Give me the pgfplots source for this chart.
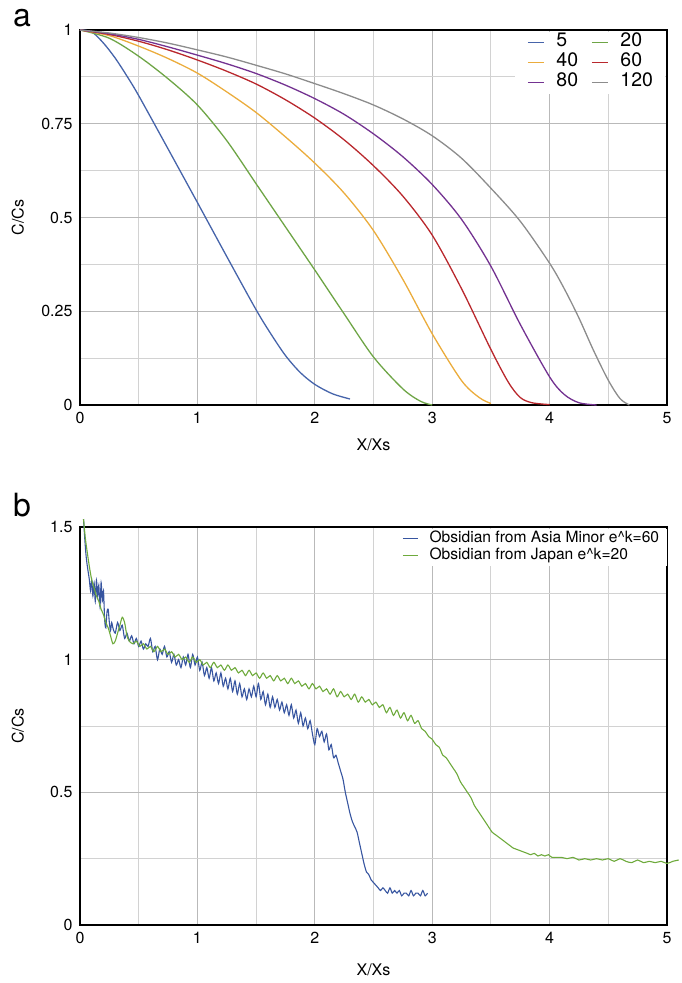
\documentclass[border=0pt]{standalone}
\usepackage{fontspec}
\setmainfont{TeX Gyre Heros}
\usepackage{pgfplots}
\pgfplotsset{compat=1.18}
\definecolor{cfive}{RGB}{70,100,170}
\definecolor{ctwenty}{RGB}{110,165,70}
\definecolor{cforty}{RGB}{235,172,60}
\definecolor{csixty}{RGB}{185,40,45}
\definecolor{ceighty}{RGB}{115,50,145}
\definecolor{conetwenty}{RGB}{140,140,140}
\definecolor{asia}{RGB}{55,85,160}
\definecolor{japan}{RGB}{110,170,60}

\pgfplotsset{
  panel/.style={
    scale only axis, width=587pt,
    xmin=0, xmax=5, xtick={0,1,2,3,4,5}, minor x tick num=1,
    grid=both,
    major grid style={gray!55, line width=1pt},
    minor grid style={gray!35, line width=1pt},
    major tick length=0pt, minor tick length=0pt,
    axis line style={black, line width=2.4pt},
    tick label style={font=\fontsize{16}{19}\selectfont},
    label style={font=\fontsize{16}{19}\selectfont},
    /pgf/number format/assume math mode=true,
    xticklabel style={yshift=-4pt},
    yticklabel style={xshift=-4pt},
    every axis plot/.append style={line width=1.3pt, no marks},
    legend cell align=left,
  },
}

\begin{document}
\begin{tikzpicture}
\useasboundingbox (-80pt,-578pt) rectangle (601pt,405pt);

% panel a
\begin{axis}[panel, at={(0pt,0pt)}, height=375pt,
  ymin=0, ymax=1, ytick={0,0.25,0.5,0.75,1}, minor y tick num=1,
  xlabel={X/Xs}, ylabel={C/Cs},
  xlabel style={at={(axis description cs:0.5,-0.107)}, anchor=center},
  ylabel style={at={(axis description cs:-0.106,0.5)}, anchor=center},
  legend columns=2,
  legend style={at={(axis description cs:0.741,0.996)}, anchor=north west,
    draw=none, fill=white, font=\fontsize{19.5}{22}\selectfont,
    inner xsep=12pt, inner ysep=1pt,
    nodes={inner xsep=0pt, inner ysep=0pt, text height=14pt, text depth=6pt},
    /tikz/every odd column/.style={column sep=12pt},
    /tikz/every even column/.style={column sep=13pt}},
  legend image code/.code={\draw[#1, line width=1.3pt] (0pt,0pt) -- (16pt,0pt);},
]
\addplot[cfive, smooth] coordinates {(0,1) (0.1,0.995) (0.2,0.965) (0.3,0.925) (0.4,0.877) (0.5,0.825) (0.75,0.683) (1,0.54) (1.25,0.396) (1.5,0.254) (1.625,0.19) (1.75,0.132) (1.875,0.087) (2,0.055) (2.15,0.03) (2.3,0.016)};
\addplot[ctwenty, smooth] coordinates {(0,1) (0.25,0.978) (0.5,0.93) (0.75,0.87) (1,0.80) (1.25,0.705) (1.5,0.59) (1.75,0.475) (2,0.36) (2.25,0.243) (2.5,0.128) (2.75,0.043) (2.9,0.01) (3,0)};
\addplot[cforty, smooth] coordinates {(0,1) (0.25,0.985) (0.5,0.957) (0.75,0.924) (1,0.885) (1.25,0.835) (1.5,0.78) (1.75,0.715) (2,0.645) (2.25,0.565) (2.5,0.465) (2.75,0.335) (3,0.19) (3.25,0.065) (3.4,0.02) (3.5,0.004)};
\addplot[csixty, smooth] coordinates {(0,1) (0.25,0.988) (0.5,0.97) (0.75,0.947) (1,0.92) (1.25,0.89) (1.5,0.856) (1.75,0.814) (2,0.765) (2.25,0.707) (2.5,0.638) (2.75,0.557) (3,0.453) (3.25,0.31) (3.5,0.148) (3.65,0.06) (3.75,0.02) (3.85,0.006) (4,0.001)};
\addplot[ceighty, smooth] coordinates {(0,1) (0.25,0.99) (0.5,0.975) (0.75,0.955) (1,0.933) (1.25,0.91) (1.5,0.884) (1.75,0.853) (2,0.817) (2.25,0.775) (2.5,0.723) (2.75,0.662) (3,0.588) (3.25,0.495) (3.5,0.37) (3.75,0.215) (4.0,0.075) (4.125,0.028) (4.25,0.006) (4.4,0.0)};
\addplot[conetwenty, smooth] coordinates {(0,1) (0.25,0.992) (0.5,0.98) (0.75,0.965) (1,0.947) (1.25,0.928) (1.5,0.906) (1.75,0.883) (2,0.857) (2.25,0.83) (2.5,0.8) (2.75,0.763) (3,0.718) (3.25,0.658) (3.5,0.578) (3.75,0.49) (4,0.378) (4.125,0.31) (4.25,0.232) (4.375,0.145) (4.5,0.066) (4.6,0.017) (4.68,0.0)};
\legend{5,20,40,60,80,120}
\end{axis}
\node[font=\fontsize{32}{34}\selectfont] at (-58pt,387pt) {a};

% panel b
\begin{axis}[panel, at={(0pt,-520pt)}, height=398pt, clip=false,
  ymin=0, ymax=1.5, ytick={0,0.5,1,1.5}, minor y tick num=1,
  xlabel={X/Xs}, ylabel={C/Cs},
  xlabel style={at={(axis description cs:0.5,-0.113)}, anchor=center},
  ylabel style={at={(axis description cs:-0.106,0.5)}, anchor=center},
  legend style={at={(axis description cs:0.535,0.996)}, anchor=north west,
    draw=none, fill=white, font=\fontsize{15.6}{18}\selectfont,
    inner xsep=8pt, inner ysep=1.5pt,
    nodes={inner xsep=0pt, inner ysep=0pt, text height=12pt, text depth=5pt},
    /tikz/every odd column/.style={column sep=11pt}},
  legend image code/.code={\draw[#1, line width=1.3pt] (0pt,0pt) -- (15pt,0pt);},
  every axis plot/.append style={line width=1.1pt, smooth, tension=0.45},
]
\addplot[asia] coordinates {
(0.03,1.53) (0.04,1.46) (0.05,1.40) (0.06,1.36) (0.07,1.33) (0.08,1.30) (0.09,1.26) (0.10,1.30)
(0.11,1.24) (0.12,1.29) (0.13,1.22) (0.14,1.30) (0.15,1.24) (0.16,1.28) (0.17,1.20) (0.18,1.29)
(0.19,1.22) (0.20,1.26) (0.21,1.15) (0.22,1.12) (0.23,1.18) (0.24,1.19) (0.25,1.14) (0.26,1.11)
(0.27,1.14) (0.28,1.12) (0.30,1.10) (0.32,1.14) (0.34,1.11) (0.36,1.13) (0.38,1.08) (0.40,1.10)
(0.42,1.07) (0.44,1.09) (0.46,1.06) (0.48,1.08) (0.50,1.05) (0.52,1.07) (0.54,1.04) (0.56,1.06)
(0.58,1.05) (0.60,1.08) (0.62,1.03) (0.64,1.05) (0.66,1.00) (0.68,1.04) (0.70,1.02) (0.72,1.05)
(0.74,1.01) (0.76,1.03) (0.78,0.99) (0.80,1.02) (0.82,0.98) (0.84,1.00) (0.86,0.97) (0.88,1.01)
(0.90,0.98) (0.92,1.02) (0.94,0.97) (0.96,1.02) (0.98,0.98) (1.00,1.01) (1.02,0.96) (1.04,0.99)
(1.06,0.94) (1.08,0.97) (1.10,0.93) (1.12,0.97) (1.14,0.92) (1.16,0.95) (1.18,0.91) (1.20,0.95)
(1.22,0.90) (1.24,0.93) (1.26,0.89) (1.28,0.93) (1.30,0.88) (1.32,0.92) (1.34,0.87) (1.36,0.91)
(1.38,0.86) (1.40,0.89) (1.42,0.85) (1.44,0.89) (1.46,0.86) (1.48,0.90) (1.50,0.86) (1.52,0.91)
(1.54,0.85) (1.56,0.88) (1.58,0.83) (1.60,0.87) (1.62,0.82) (1.64,0.86) (1.66,0.82) (1.68,0.85)
(1.70,0.81) (1.72,0.84) (1.74,0.80) (1.76,0.83) (1.78,0.79) (1.80,0.83) (1.82,0.78) (1.84,0.81)
(1.86,0.76) (1.88,0.80) (1.90,0.75) (1.92,0.78) (1.94,0.74) (1.96,0.77) (1.98,0.72) (2.00,0.68)
(2.02,0.74) (2.04,0.71) (2.06,0.73) (2.08,0.69) (2.10,0.72) (2.12,0.66) (2.14,0.68) (2.16,0.63)
(2.18,0.64) (2.20,0.61) (2.22,0.58) (2.24,0.55) (2.26,0.50) (2.28,0.46) (2.30,0.42) (2.32,0.39)
(2.34,0.37) (2.36,0.35) (2.38,0.31) (2.40,0.27) (2.42,0.23) (2.44,0.20) (2.46,0.19) (2.48,0.17)
(2.50,0.16) (2.52,0.15) (2.54,0.14) (2.56,0.13) (2.58,0.14) (2.60,0.13) (2.62,0.12) (2.64,0.14)
(2.66,0.12) (2.68,0.13) (2.70,0.12) (2.72,0.13) (2.74,0.11) (2.76,0.12) (2.78,0.12) (2.80,0.11)
(2.82,0.13) (2.84,0.11) (2.86,0.12) (2.88,0.12) (2.90,0.11) (2.92,0.13) (2.94,0.11) (2.96,0.12)
};
\addplot[japan] coordinates {
(0.03,1.53) (0.045,1.46) (0.06,1.41) (0.08,1.35) (0.10,1.30) (0.12,1.27) (0.14,1.24) (0.16,1.22)
(0.18,1.19) (0.20,1.17) (0.22,1.14) (0.24,1.12) (0.26,1.09) (0.28,1.06) (0.30,1.07) (0.32,1.10)
(0.34,1.13) (0.36,1.16) (0.38,1.14) (0.40,1.09) (0.42,1.07) (0.45,1.06) (0.48,1.07) (0.51,1.05)
(0.54,1.06) (0.57,1.04) (0.60,1.05) (0.63,1.03) (0.66,1.05) (0.69,1.03) (0.72,1.04) (0.75,1.02)
(0.78,1.03) (0.81,1.01) (0.84,1.02) (0.87,1.00) (0.90,1.01) (0.93,0.99) (0.96,1.01) (0.99,0.99)
(1.02,1.00) (1.05,0.98) (1.08,0.99) (1.11,0.97) (1.14,0.99) (1.17,0.97) (1.20,0.98) (1.23,0.96)
(1.26,0.98) (1.29,0.96) (1.32,0.97) (1.35,0.95) (1.38,0.96) (1.41,0.94) (1.44,0.96) (1.47,0.94)
(1.50,0.95) (1.53,0.93) (1.56,0.95) (1.59,0.93) (1.62,0.94) (1.65,0.92) (1.68,0.94) (1.71,0.92)
(1.74,0.93) (1.77,0.91) (1.80,0.93) (1.83,0.91) (1.86,0.92) (1.89,0.90) (1.92,0.91) (1.95,0.89)
(1.98,0.91) (2.01,0.89) (2.04,0.90) (2.07,0.88) (2.10,0.89) (2.13,0.87) (2.16,0.89) (2.19,0.86)
(2.22,0.88) (2.25,0.86) (2.28,0.87) (2.31,0.85) (2.34,0.87) (2.37,0.84) (2.40,0.86) (2.43,0.84)
(2.46,0.85) (2.49,0.83) (2.52,0.84) (2.55,0.82) (2.58,0.83) (2.61,0.80) (2.64,0.82) (2.67,0.79)
(2.70,0.81) (2.73,0.78) (2.76,0.80) (2.79,0.77) (2.82,0.79) (2.85,0.76) (2.88,0.77) (2.91,0.74)
(2.94,0.73) (2.97,0.71) (3.00,0.70) (3.03,0.68) (3.06,0.67) (3.09,0.64) (3.12,0.63) (3.15,0.61)
(3.18,0.59) (3.21,0.57) (3.24,0.54) (3.27,0.52) (3.30,0.50) (3.33,0.48) (3.36,0.45) (3.39,0.43)
(3.42,0.41) (3.45,0.39) (3.48,0.37) (3.51,0.35) (3.54,0.34) (3.57,0.33) (3.60,0.32) (3.63,0.31)
(3.66,0.30) (3.69,0.29) (3.72,0.285) (3.75,0.28) (3.78,0.275) (3.81,0.27) (3.84,0.265) (3.87,0.27)
(3.90,0.26) (3.93,0.265) (3.96,0.26) (3.99,0.265) (4.02,0.255) (4.10,0.255) (4.15,0.25) (4.20,0.255)
(4.25,0.245) (4.30,0.25) (4.35,0.245) (4.40,0.25) (4.45,0.245) (4.50,0.25) (4.55,0.24) (4.60,0.25)
(4.65,0.24) (4.70,0.235) (4.75,0.245) (4.80,0.235) (4.85,0.24) (4.90,0.235) (4.95,0.24) (5.00,0.232)
(5.05,0.24) (5.10,0.245)
};
\legend{Obsidian from Asia Minor e\^{}k=60, Obsidian from Japan e\^{}k=20}
\end{axis}
\node[font=\fontsize{32}{34}\selectfont] at (-58pt,-100pt) {b};
\end{tikzpicture}
\end{document}
